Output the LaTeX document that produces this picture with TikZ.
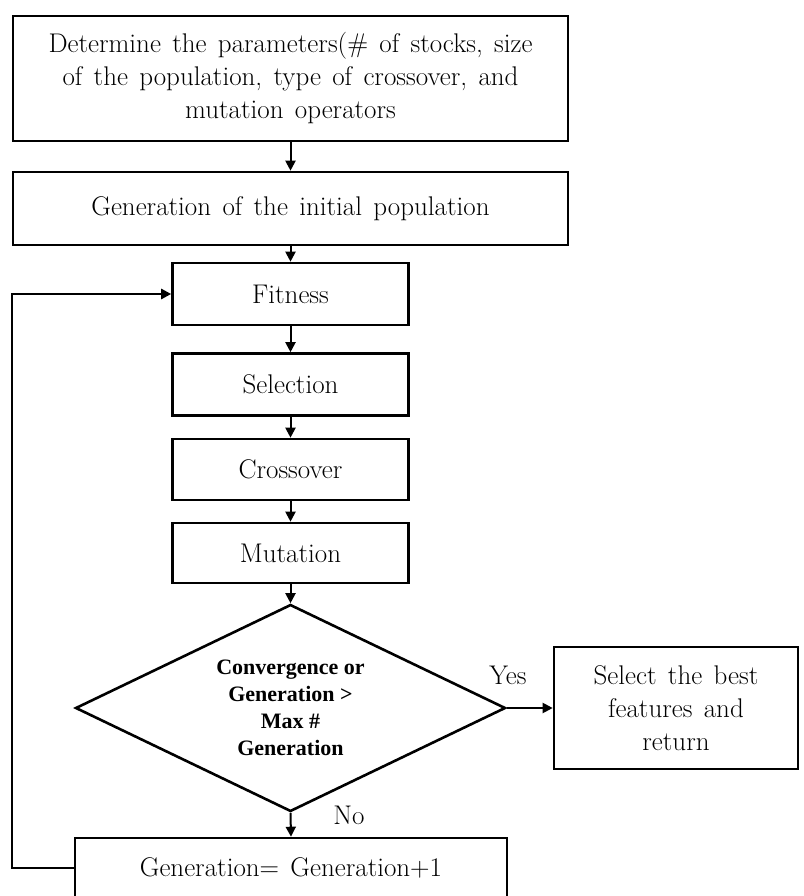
\documentclass[tikz,border=0pt]{standalone}
\usepackage{fontspec}
\newfontfamily\decisionfont{Liberation Serif}
\newcommand\boxtextfont{\fontsize{27}{33}\selectfont\spaceskip=0.42em plus 0.1em minus 0.05em\relax}
\usetikzlibrary{arrows.meta,shapes.geometric}
\begin{document}
\begin{tikzpicture}[x=1pt,y=-1pt,
  box/.style={draw, line width=2.6pt, inner sep=0pt, align=center,
    font=\boxtextfont},
  decision/.style={draw, diamond, line width=2.6pt, inner sep=0pt},
  decisiontext/.style={inner sep=0pt, align=center,
    font=\decisionfont\bfseries\fontsize{22}{27}\selectfont},
  link/.style={line width=2pt, -{Triangle[length=10pt,width=10pt]}},
  lbl/.style={font=\fontsize{27}{30}\selectfont, inner sep=0pt}]
\useasboundingbox (0,0) rectangle (803,896);

% process boxes
\node[box, minimum width=555, minimum height=125] (params) at (290.5,78.5)
  {Determine the parameters(\# of stocks, size\\of the population, type of crossover, and\\mutation operators};
\node[box, minimum width=555, minimum height=73] (init) at (290.5,208.5)
  {Generation of the initial population};
\node[box, minimum width=236, minimum height=62] (fitness) at (290.5,294) {Fitness};
\node[box, minimum width=236, minimum height=62] (selection) at (290.5,384.5) {Selection};
\node[box, minimum width=236, minimum height=61] (crossover) at (290.5,469.5) {Crossover};
\node[box, minimum width=236, minimum height=60] (mutation) at (290.5,553) {Mutation};

% convergence test: outline and its text
\node[decision, minimum width=430, minimum height=207] (test) at (290.5,708) {};
\node[decisiontext] (testtext) at (test.center)
  {Convergence or\\Generation >\\Max \#\\Generation};

\node[box, minimum width=244, minimum height=122] (best) at (676,708)
  {Select the best\\features and\\return};
\node[box, minimum width=432, minimum height=60] (gen) at (291,868)
  {Generation= Generation+1};

% flow
\draw[link] (params) -- (init);
\draw[link] (init) -- (fitness);
\draw[link] (fitness) -- (selection);
\draw[link] (selection) -- (crossover);
\draw[link] (crossover) -- (mutation);
\draw[link] (mutation) -- (test.north);
\draw[link] (test.east) -- (best.west);
\draw[link] (test.south) -- (gen.north);

% loop back to fitness
\coordinate (loop) at (12,868);
\draw[link, line width=2.4pt] (gen.west) -- (loop) |- (fitness.west);

% branch labels
\node[lbl] (yes) at (508,675) {Yes};
\node[lbl] (no) at (349,815) {No};
\end{tikzpicture}
\end{document}
